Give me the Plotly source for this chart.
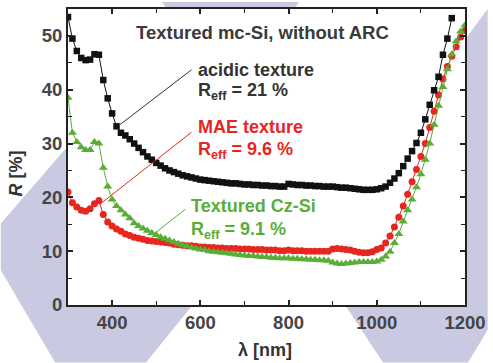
import plotly.graph_objects as go

# ---------------- data ----------------
wl = list(range(300, 1210, 10))

acidic = [53.5, 49.5, 47.2, 45.9, 45.5, 45.6, 46.6, 46.5, 41.8, 38.4,
          35.6, 33.2, 32.0, 31.5, 30.8, 30.0, 29.2, 28.4, 27.6, 27.0,
          26.4, 25.9, 25.4, 25.0, 24.7, 24.4, 24.1, 23.9, 23.7, 23.5,
          23.3, 23.2, 23.1, 23.0, 22.9, 22.8, 22.7, 22.6, 22.6, 22.5,
          22.4, 22.4, 22.3, 22.3, 22.2, 22.2, 22.1, 22.1, 22.0, 22.0,
          22.5, 22.4, 22.3, 22.3, 22.2, 22.2, 22.1, 22.1, 22.0, 22.0,
          22.0, 21.9, 21.8, 21.8, 21.7, 21.6, 21.5, 21.4, 21.4, 21.4,
          21.5, 21.7, 22.0, 22.7, 23.5, 24.5, 25.8, 27.2, 28.6, 30.1,
          32.0, 34.5, 37.2, 39.9, 42.4, 46.5, 49.5, 53.3]

mae = [21.0, 19.0, 18.2, 17.6, 17.4, 17.9, 18.8, 19.4, 16.8, 15.4,
       14.7, 14.1, 13.7, 13.2, 12.9, 12.6, 12.4, 12.2, 12.0, 11.9,
       11.8, 11.7, 11.6, 11.5, 11.3, 11.2, 11.1, 11.0, 11.0, 10.9,
       10.8, 10.8, 10.7, 10.7, 10.6, 10.6, 10.5, 10.5, 10.5, 10.4,
       10.4, 10.4, 10.3, 10.3, 10.3, 10.2, 10.2, 10.2, 10.1, 10.1,
       10.2, 10.1, 10.1, 10.1, 10.0, 10.0, 10.0, 10.0, 10.0, 10.0,
       10.4, 10.5, 10.4, 10.3, 10.2, 10.0, 9.8, 9.7, 9.7, 9.9,
       10.3, 10.6, 11.5, 12.8, 14.5, 16.3, 18.4, 20.6, 22.9, 25.2,
       27.6, 30.0, 33.0, 36.0, 39.0, 42.0, 44.3, 46.2, 48.0, 49.8,
       51.0]

cz = [38.5, 32.0, 30.3, 29.3, 28.8, 28.8, 30.3, 30.0, 25.5, 22.0,
      19.6, 18.4, 17.6, 16.8, 16.1, 15.2, 14.7, 14.2, 13.8, 13.4,
      13.0, 12.6, 12.3, 12.0, 11.7, 11.4, 11.1, 10.9, 10.7, 10.5,
      10.3, 10.2, 10.0, 9.9, 9.8, 9.7, 9.6, 9.5, 9.4, 9.3,
      9.2, 9.1, 9.1, 9.0, 8.9, 8.9, 8.8, 8.8, 8.7, 8.7,
      8.7, 8.6, 8.6, 8.5, 8.5, 8.4, 8.4, 8.3, 8.3, 8.2,
      7.9, 7.7, 7.6, 7.7, 7.8, 7.9, 8.0, 8.0, 8.0, 8.0,
      8.1, 8.4, 9.0, 9.9, 11.5, 13.2, 15.5, 17.6, 19.6, 21.9,
      24.3, 27.0, 30.0, 33.5, 37.0, 40.5, 43.8, 46.6, 49.0, 50.8,
      52.0]

x_ticks = [400, 600, 800, 1000, 1200]
y_ticks = [0, 10, 20, 30, 40, 50]

# ---------------- style ----------------
W, H = 493, 363
L, R, T, B = 68, 23, 7, 58
PW, PH = W - L - R, H - T - B
FONT = "Liberation Sans"
BLACK = "#111111"
RED = "#e6261f"
GREEN = "#5aae38"
LAV = "#c9c9e2"


def px(xp):
    return (xp - L) / PW


def py(yp):
    return (H - B - yp) / PH


def path(points):
    s = "M " + " L ".join(f"{px(a):.4f},{py(b):.4f}" for a, b in points) + " Z"
    return s


fig = go.Figure()
fig.add_trace(go.Scatter(x=wl[:len(mae)], y=mae, mode="lines+markers",
                         line=dict(color=RED, width=1),
                         marker=dict(symbol="circle", size=7, color=RED),
                         name="MAE texture"))
fig.add_trace(go.Scatter(x=wl[:len(cz)], y=cz, mode="lines+markers",
                         line=dict(color=GREEN, width=1),
                         marker=dict(symbol="triangle-up", size=8, color=GREEN),
                         name="Textured Cz-Si"))
fig.add_trace(go.Scatter(x=wl[:len(acidic)], y=acidic, mode="lines+markers",
                         line=dict(color=BLACK, width=1),
                         marker=dict(symbol="square", size=6.5, color=BLACK),
                         name="acidic texture"))

shapes = []
# decorative lavender background chevrons
shapes.append(dict(type="path", xref="paper", yref="paper", layer="below",
                   path=path([(0, 223), (120, 85), (240, 250), (190, 310),
                              (147, 363), (55, 363), (0, 270)]),
                   fillcolor=LAV, line=dict(width=0)))
shapes.append(dict(type="path", xref="paper", yref="paper", layer="below",
                   path=path([(163, 0), (302, 0), (280, 30), (185, 30)]),
                   fillcolor=LAV, line=dict(width=0)))
shapes.append(dict(type="path", xref="paper", yref="paper", layer="below",
                   path=path([(493, 7), (493, 330), (473, 363), (387, 363),
                              (340, 292), (440, 78)]),
                   fillcolor=LAV, line=dict(width=0)))
# white plotting area on top of the decoration
shapes.append(dict(type="rect", xref="paper", yref="paper", layer="below",
                   x0=0, x1=1, y0=0, y1=1, fillcolor="white",
                   line=dict(width=0)))
# leader lines
shapes.append(dict(type="line", xref="x", yref="y", x0=580, y0=43.7, x1=416, y1=33.4,
                   line=dict(color="#333333", width=1)))
shapes.append(dict(type="line", xref="x", yref="y", x0=580, y0=32.1, x1=372, y1=18.7,
                   line=dict(color=RED, width=1)))
shapes.append(dict(type="line", xref="x", yref="y", x0=566, y0=17.8, x1=495, y1=13.2,
                   line=dict(color=GREEN, width=1)))

ann = []


def add_text(text, xp, yp, color, size=18, anchor="left"):
    ann.append(dict(text=text, xref="paper", yref="paper", x=px(xp), y=py(yp),
                    xanchor=anchor, yanchor="middle", showarrow=False,
                    font=dict(family=FONT, size=size, color=color, weight="bold")))


add_text("Textured mc-Si, without ARC", 265, 31, "#3a3a3a", 18.5, "center")
add_text("acidic texture", 198, 68, "#333333")
add_text("R<sub>eff</sub> = 21 %", 198, 90, "#333333")
add_text("MAE texture", 198, 126, RED)
add_text("R<sub>eff</sub> = 9.6 %", 198, 149, RED)
add_text("Textured Cz-Si", 191, 205, GREEN)
add_text("R<sub>eff</sub> = 9.1 %", 191, 230, GREEN)
# axis titles
ann.append(dict(text="<i>R</i> [%]", xref="paper", yref="paper", x=px(15), y=py(173),
                xanchor="center", yanchor="middle", textangle=-90, showarrow=False,
                font=dict(family=FONT, size=18, color="#333333", weight="bold")))
ann.append(dict(text="λ [nm]", xref="paper", yref="paper", x=px(267), y=py(350),
                xanchor="center", yanchor="middle", showarrow=False,
                font=dict(family=FONT, size=18, color="#333333", weight="bold")))

tickfont = dict(family=FONT, size=18.5, color="#454545", weight="bold")

fig.update_layout(
    width=W, height=H,
    margin=dict(l=L, r=R, t=T, b=B),
    paper_bgcolor="white", plot_bgcolor="rgba(0,0,0,0)",
    showlegend=False,
    shapes=shapes, annotations=ann,
    xaxis=dict(range=[300, 1200], tickmode="array", tickvals=x_ticks,
               ticktext=[str(v) for v in x_ticks],
               ticks="inside", ticklen=5, tickwidth=1.5, tickcolor="#222",
               showline=True, linecolor="#222", linewidth=2, mirror="ticks",
               showgrid=False, zeroline=False, tickfont=tickfont,
               minor=dict(tickvals=[500, 700, 900, 1100], ticks="inside",
                          ticklen=4, tickwidth=1.2, tickcolor="#222")),
    yaxis=dict(range=[0, 55], tickmode="array", tickvals=y_ticks,
               ticktext=[str(v) for v in y_ticks],
               ticks="inside", ticklen=5, tickwidth=1.5, tickcolor="#222",
               showline=True, linecolor="#222", linewidth=2, mirror="ticks",
               showgrid=False, zeroline=False, tickfont=tickfont,
               minor=dict(tickvals=[5, 15, 25, 35, 45], ticks="inside",
                          ticklen=4, tickwidth=1.2, tickcolor="#222")),
)

fig.write_html("out.html")
